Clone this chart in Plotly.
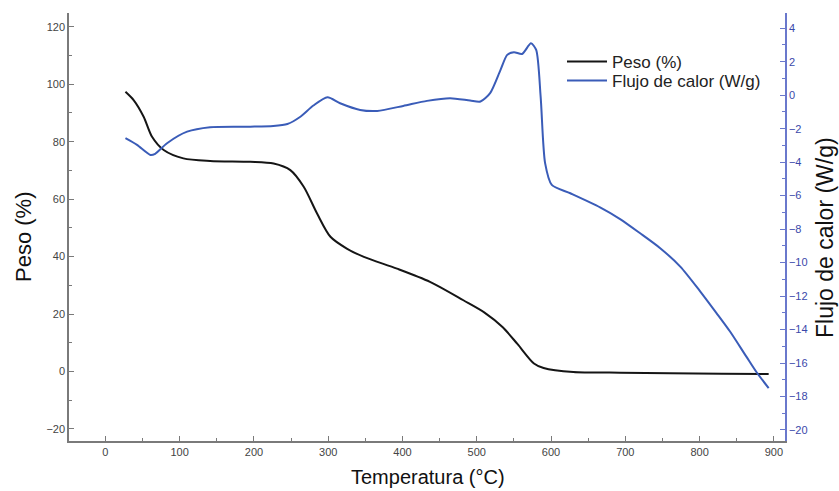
import plotly.graph_objects as go

# Thermogravimetric data
temp_peso = [27, 38, 51.5, 62.8, 78.5, 105, 141, 195, 226.5, 249, 267, 285, 303, 325,
             348, 392.6, 437, 482, 510, 535, 555, 577, 590, 630, 693, 760, 830, 893]
peso = [97.4, 94.5, 88.7, 81.7, 77.1, 74.2, 73.3, 73.0, 72.4, 70.1, 64.3, 55.0, 46.9, 42.8,
        39.9, 35.8, 31.2, 24.8, 20.6, 15.4, 9.5, 2.8, 1.2, -0.2, -0.4, -0.6, -0.8, -0.9]

temp_flujo = [27, 42.6, 60.6, 67, 83, 110, 141, 195, 226, 245, 262, 280, 299, 316, 343, 366,
              401, 433, 464, 491, 505, 518, 532, 541, 550, 561, 573, 580, 586, 592, 601, 626,
              666, 693, 720, 747, 774, 801, 823, 841, 863, 877, 893]
flujo = [-2.57, -2.97, -3.57, -3.5, -2.87, -2.18, -1.91, -1.88, -1.84, -1.72, -1.3, -0.62,
         -0.12, -0.48, -0.88, -0.94, -0.64, -0.34, -0.18, -0.32, -0.38, 0.12, 1.51, 2.41, 2.57,
         2.46, 3.1, 2.70, -0.09, -4.06, -5.36, -5.86, -6.7, -7.4, -8.25, -9.14, -10.24, -11.73,
         -13.03, -14.12, -15.62, -16.57, -17.5]

x_ticks = [0, 100, 200, 300, 400, 500, 600, 700, 800, 900]
y_ticks = [-20, 0, 20, 40, 60, 80, 100, 120]
y2_ticks = [-20, -18, -16, -14, -12, -10, -8, -6, -4, -2, 0, 2, 4]

x_title = "Temperatura (°C)"
y_title = "Peso (%)"
y2_title = "Flujo de calor (W/g)"

FONT = "Liberation Sans, Arial, sans-serif"
BLUE_LINE = "#3a5cb8"
BLUE_AXIS = "#6a78cc"
BLUE_TEXT = "#3a48aa"
GREY = "#7a7a7a"

W, H = 839, 491
ML, MR, MT, MB = 69, 54, 13, 50
PW, PH = W - ML - MR, H - MT - MB


def px_x(px):
    return (px - ML) / PW


def px_y(py):
    return 1 - (py - MT) / PH


fig = go.Figure()
fig.add_trace(go.Scatter(x=temp_peso, y=peso, mode="lines", name="Peso (%)", legend="legend",
                         line=dict(color="#151515", width=2, shape="spline", smoothing=0.8)))
fig.add_trace(go.Scatter(x=temp_flujo, y=flujo, mode="lines", name="Flujo de calor (W/g)",
                         yaxis="y2", legend="legend2",
                         line=dict(color=BLUE_LINE, width=2, shape="spline", smoothing=0.7)))

leg_common = dict(xanchor="left", yanchor="top", bgcolor="rgba(0,0,0,0)",
                  font=dict(size=17, color="#222222", family=FONT), itemwidth=40)

fig.update_layout(
    width=W, height=H,
    margin=dict(l=ML, r=MR, t=MT, b=MB, autoexpand=False),
    paper_bgcolor="white", plot_bgcolor="white",
    font=dict(family=FONT, color="#333333"),
    showlegend=True,
    legend=dict(x=px_x(562), y=px_y(44), **leg_common),
    legend2=dict(x=px_x(562), y=px_y(63), **leg_common),
    xaxis=dict(
        range=[-49, 915], tickvals=x_ticks, ticks="inside", ticklen=5, tickwidth=1.2,
        tickcolor=GREY, showline=True, linecolor=GREY, linewidth=1.5, showgrid=False,
        zeroline=False, tickfont=dict(size=11, color="#444444"), automargin=False,
        minor=dict(dtick=50, tick0=0, ticks="inside", ticklen=3, tickcolor=GREY, showgrid=False),
    ),
    yaxis=dict(
        range=[-24.2, 124.8], tickvals=y_ticks, ticks="inside", ticklen=5, tickwidth=1.2,
        tickcolor=GREY, showline=True, linecolor=GREY, linewidth=1.5, showgrid=False,
        zeroline=False, tickfont=dict(size=11, color="#444444"), automargin=False,
        minor=dict(dtick=10, tick0=0, ticks="inside", ticklen=3, tickcolor=GREY, showgrid=False),
    ),
    yaxis2=dict(
        overlaying="y", side="right", anchor="x",
        range=[-20.66, 4.91], tickvals=y2_ticks, ticks="inside", ticklen=5, tickwidth=1.2,
        tickcolor=BLUE_AXIS, showline=True, linecolor=BLUE_AXIS, linewidth=1.5, showgrid=False,
        zeroline=False, tickfont=dict(size=11, color=BLUE_TEXT), automargin=False,
        minor=dict(dtick=1, tick0=0, ticks="inside", ticklen=3, tickcolor=BLUE_AXIS, showgrid=False),
    ),
    annotations=[
        dict(text=x_title, xref="paper", yref="paper", x=px_x(428), y=px_y(477),
             xanchor="center", yanchor="middle", showarrow=False,
             font=dict(size=20, color="#111111", family=FONT)),
        dict(text=y_title, xref="paper", yref="paper", x=px_x(24), y=px_y(237),
             xanchor="center", yanchor="middle", showarrow=False, textangle=-90,
             font=dict(size=22, color="#111111", family=FONT)),
        dict(text=y2_title, xref="paper", yref="paper", x=px_x(825), y=px_y(238),
             xanchor="center", yanchor="middle", showarrow=False, textangle=-90,
             font=dict(size=23, color="#111111", family=FONT)),
    ],
)

fig.write_html(
    "out.html",
    config={"displayModeBar": False},
    post_script="document.body.style.margin='0';document.body.style.overflow='hidden';",
)
